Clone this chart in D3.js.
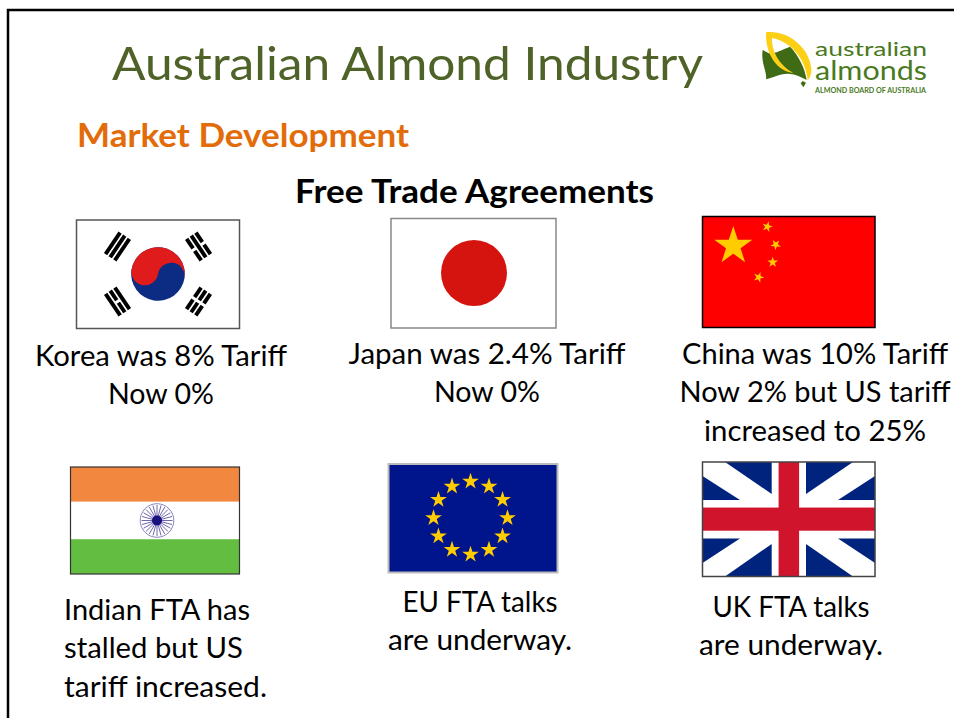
<!DOCTYPE html>
<html>
<head>
<meta charset="utf-8">
<script src="https://cdn.jsdelivr.net/npm/d3@7"></script>
<style>
  html, body { margin: 0; padding: 0; background: #fff; overflow: hidden; }
  svg { display: block; font-family: Lato, "Open Sans", sans-serif; }
</style>
</head>
<body>
<svg width="954" height="718"></svg>
<script>
// slide text
var titleText = "Australian Almond Industry";
var subtitleText = "Market Development";
var headingText = "Free Trade Agreements";

// captions under the flags
var koreaLines = ["Korea was 8% Tariff", "Now 0%"];
var japanLines = ["Japan was 2.4% Tariff", "Now 0%"];
var chinaLines = ["China was 10% Tariff", "Now 2% but US tariff", "increased to 25%"];
var indiaLines = ["Indian FTA has", "stalled but US", "tariff increased."];
var euLines = ["EU FTA talks", "are underway."];
var ukLines = ["UK FTA talks", "are underway."];

var logoLines = ["australian", "almonds"];
var logoFooter = "ALMOND BOARD OF AUSTRALIA";

var svg = d3.select("svg");
var bodySize = 28.5;
var lineGap = 38.4;

// slide frame
svg.append("path")
  .attr("d", "M8,718V10H954")
  .attr("fill", "none")
  .attr("stroke", "#000")
  .attr("stroke-width", 2.5);

function addText(str, x, y, size, color, width, opts) {
  opts = opts || {};
  return svg.append("text")
    .attr("x", x)
    .attr("y", y)
    .attr("font-size", size)
    .attr("fill", color)
    .attr("font-weight", opts.weight || 400)
    .attr("text-anchor", opts.anchor || "start")
    .attr("textLength", width)
    .attr("lengthAdjust", "spacingAndGlyphs")
    .text(str);
}

addText(titleText, 112, 80, 47, "#4f6228", 591);
addText(subtitleText, 77, 147, 32, "#e36c0a", 332, { weight: 700 });
addText(headingText, 295, 203, 32, "#000", 359, { weight: 700 });

// caption lines, one width per line
function caption(lines, widths, x, y0, anchor) {
  lines.forEach(function (l, i) {
    addText(l, x, y0 + i * lineGap, bodySize, "#000", widths[i], { anchor: anchor || "middle" });
  });
}
caption(koreaLines, [252, 106], 161, 366);
caption(japanLines, [277, 106], 487, 364);
caption(chinaLines, [266, 271, 222], 815, 364);
caption(indiaLines, [186, 179, 203], 64, 620, "start");
caption(euLines, [155, 184], 480, 612);
caption(ukLines, [157, 184], 791, 617);

// flag group with local x/y scales running 0..1
function flagBox(x0, y0, x1, y1) {
  var x = d3.scaleLinear().domain([0, 1]).range([x0, x1]);
  var y = d3.scaleLinear().domain([0, 1]).range([y0, y1]);
  var g = svg.append("g");
  g.frame = function (border, bw) {
    g.append("rect")
      .attr("x", x0).attr("y", y0)
      .attr("width", x1 - x0).attr("height", y1 - y0)
      .attr("fill", "none")
      .attr("stroke", border)
      .attr("stroke-width", bw);
  };
  g.fillRect = function (fx0, fy0, fx1, fy1, color) {
    g.append("rect")
      .attr("x", x(fx0)).attr("y", y(fy0))
      .attr("width", x(fx1) - x(fx0)).attr("height", y(fy1) - y(fy0))
      .attr("fill", color);
  };
  return g;
}

function star(g, cx, cy, R, color, rot) {
  g.append("path")
    .attr("d", d3.symbol(d3.symbolStar, R * R / 0.8908)())
    .attr("transform", "translate(" + cx + "," + cy + ") rotate(" + (rot || 0) + ")")
    .attr("fill", color);
}

// KOREA
var korea = flagBox(76.5, 220, 239.5, 328.5);
korea.fillRect(0, 0, 1, 1, "#fff");
var kc = [158, 274], kr = 26.8;
var taeguk = korea.append("g")
  .attr("transform", "translate(" + kc + ") rotate(9)");
taeguk.append("circle").attr("r", kr).attr("fill", "#0c2c84");
taeguk.append("path")
  .attr("d", "M" + (-kr) + ",0A" + kr + "," + kr + " 0 0 1 " + kr + ",0A" + kr / 2 + "," + kr / 2 + " 0 0 0 0,0A" + kr / 2 + "," + kr / 2 + " 0 0 1 " + (-kr) + ",0Z")
  .attr("fill", "#e01b1b");

// trigrams: each bar broken or not
var trigramBars = [
  { dx: -40.5, dy: -27.5, rot: -56, bars: [0, 0, 0] },
  { dx: 40.5, dy: -27.5, rot: 56, bars: [1, 0, 1] },
  { dx: -40.5, dy: 27.5, rot: 56, bars: [0, 1, 0] },
  { dx: 40.5, dy: 27.5, rot: -56, bars: [1, 1, 1] }
];
trigramBars.forEach(function (t) {
  var g = korea.append("g")
    .attr("transform", "translate(" + (kc[0] + t.dx) + "," + (kc[1] + t.dy) + ") rotate(" + t.rot + ")");
  t.bars.forEach(function (broken, i) {
    var yy = -7.6 + i * 5.6;
    if (broken) {
      g.append("rect").attr("x", -13).attr("y", yy).attr("width", 11.5).attr("height", 3.9);
      g.append("rect").attr("x", 1.5).attr("y", yy).attr("width", 11.5).attr("height", 3.9);
    } else {
      g.append("rect").attr("x", -13).attr("y", yy).attr("width", 26).attr("height", 3.9);
    }
  });
});
korea.frame("#555", 1.5);

// JAPAN
var japan = flagBox(391, 218.5, 556, 328);
japan.fillRect(0, 0, 1, 1, "#fff");
japan.append("circle").attr("cx", 474).attr("cy", 273).attr("r", 33).attr("fill", "#d5140f");
japan.frame("#888", 1.5);

// CHINA
var china = flagBox(702.5, 216.5, 875, 327.5);
china.fillRect(0, 0, 1, 1, "#ff0000");
star(china, 733.3, 246, 20, "#ffcc00");
star(china, 767.3, 226.7, 5.6, "#ffcc00", 15);
star(china, 775.7, 244.7, 5.6, "#ffcc00", 40);
star(china, 772.7, 262.3, 5.6, "#ffcc00", 0);
star(china, 758.7, 277.3, 5.6, "#ffcc00", 20);
china.frame("#000", 1.5);

// INDIA
var india = flagBox(70.5, 467, 239.5, 574);
india.fillRect(0, 0, 1, 0.325, "#f28840");
india.fillRect(0, 0.325, 1, 0.675, "#fff");
india.fillRect(0, 0.675, 1, 1, "#62bd41");
var wheel = india.append("g").attr("transform", "translate(157,520.5)");
wheel.append("circle").attr("r", 16.8).attr("fill", "none").attr("stroke", "#6a6aa8").attr("stroke-width", 0.8);
d3.range(24).forEach(function (i) {
  var a = i * Math.PI / 12;
  wheel.append("line")
    .attr("x2", 15.5 * Math.cos(a)).attr("y2", 15.5 * Math.sin(a))
    .attr("stroke", "#4a3f98").attr("stroke-width", 0.8);
});
wheel.append("circle").attr("r", 5).attr("fill", "#1a0f80");
india.frame("#333", 1.2);

// EU
var eu = flagBox(388.5, 464, 557.5, 572.5);
eu.fillRect(0, 0, 1, 1, "#00148c");
d3.range(12).forEach(function (i) {
  var a = i * Math.PI / 6;
  star(eu, 470.5 + 37 * Math.sin(a), 518 - 36.5 * Math.cos(a), 8.8, "#ffcc00");
});
eu.frame("#bbb", 2);

// UK
var uk = flagBox(702.5, 462, 875, 576.5);
uk.fillRect(0, 0, 1, 1, "#fff");
var ukBlue = [
  [[725, 462], [771.7, 462], [771.7, 494]],
  [[806, 462], [853, 462], [806, 494]],
  [[702.5, 476], [740, 500], [702.5, 500]],
  [[875, 476], [838, 500], [875, 500]],
  [[702.5, 563], [740, 538.5], [702.5, 538.5]],
  [[875, 563], [838, 538.5], [875, 538.5]],
  [[725, 576.5], [771.7, 576.5], [771.7, 544]],
  [[806, 576.5], [853, 576.5], [806, 544]]
];
uk.selectAll("path.blue")
  .data(ukBlue)
  .enter().append("path")
  .attr("class", "blue")
  .attr("d", d3.line())
  .attr("fill", "#00247d");
uk.fillRect(0, 0.398, 1, 0.6, "#cf142b");
uk.fillRect(0.441, 0, 0.56, 1, "#cf142b");
uk.frame("#444", 1.5);

// LOGO, outline in zoomed picture coordinates
var logo = svg.append("g").attr("transform", "translate(740,0) scale(0.3333)");
logo.append("path")
  .attr("d", "M68,150C80,155 92,165 96,160C110,158 125,150 150,140C175,165 195,205 200,240C185,232 165,222 150,222C125,218 95,235 78,238C82,215 62,190 68,150Z")
  .attr("fill", "#3f6b14");
logo.append("path")
  .attr("d", "M188,243L198,248L190,262L182,250Z")
  .attr("fill", "#3f6b14");
logo.append("path")
  .attr("d", "M78,97C130,88 205,130 214,205C215,220 210,235 203,240C198,190 165,128 96,114C94,150 115,195 160,219C115,214 76,170 78,97Z")
  .attr("fill", "#fdd017");
addText(logoLines[0], 815, 56, 19.5, "#4a7a1e", 112);
addText(logoLines[1], 815, 80, 27, "#4a7a1e", 112);
addText(logoFooter, 815, 93, 7, "#4a7a1e", 111, { weight: 700 });
</script>
</body>
</html>
